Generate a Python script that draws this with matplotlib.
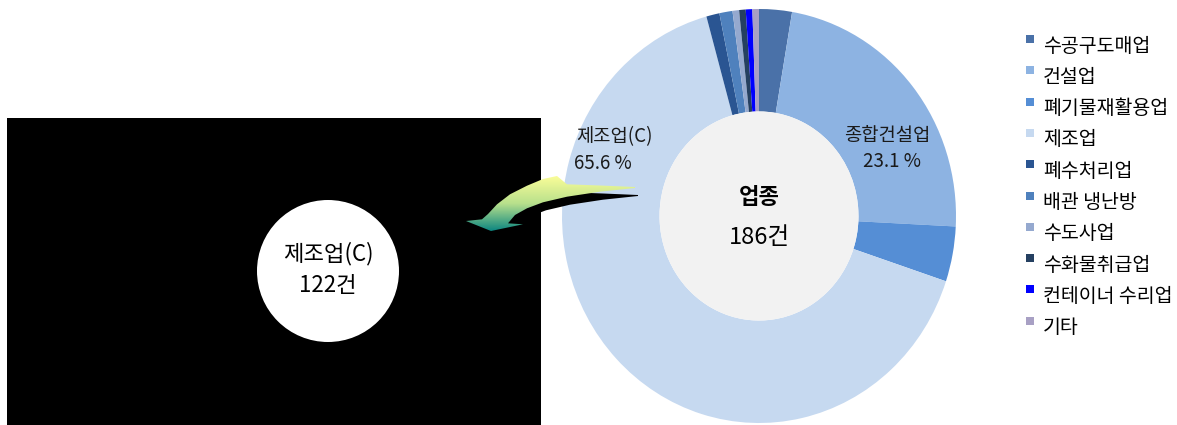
import matplotlib
matplotlib.use("Agg")
import matplotlib.pyplot as plt
import numpy as np
from matplotlib.patches import Rectangle, Circle, Polygon
from matplotlib.colors import LinearSegmentedColormap

plt.rcParams['font.family'] = ['Noto Sans CJK KR', 'DejaVu Sans']

# 업종별 건수
industries = ['수공구도매업', '건설업', '폐기물재활용업', '제조업', '폐수처리업',
              '배관 냉난방', '수도사업', '수화물취급업', '컨테이너 수리업', '기타']
counts = [5, 43, 8, 122, 2, 2, 1, 1, 1, 1]
colors = ['#4a71a8', '#8db3e2', '#558ed5', '#c6d9f0', '#2a5592',
          '#4f81bd', '#95a9cf', '#254061', '#0000ff', '#a8a0c4']

W, H = 1177, 425
fig = plt.figure(figsize=(W / 100, H / 100), dpi=100)


def px_axes(zorder):
    ax = fig.add_axes([0, 0, 1, 1], zorder=zorder)
    ax.set_xlim(0, W)
    ax.set_ylim(H, 0)
    ax.axis('off')
    ax.patch.set_alpha(0)
    return ax


# background panel with the highlighted category
ax_bg = px_axes(0)
ax_bg.add_patch(Rectangle((7, 118), 534, 320, facecolor='black', edgecolor='none'))
ax_bg.add_patch(Circle((328, 271), 71, facecolor='white', edgecolor='none'))
manuf_idx = industries.index('제조업')
ax_bg.text(328, 254, '제조업(C)', ha='center', va='center', fontsize=16)
ax_bg.text(328, 286, f'{counts[manuf_idx]}건', ha='center', va='center', fontsize=16)

# doughnut (slightly taller than wide)
cx, cy, rx, ry = 759, 216, 197, 207
ax = fig.add_axes([(cx - 1.25 * rx) / W, (H - cy - 1.25 * ry) / H,
                   2.5 * rx / W, 2.5 * ry / H], zorder=1)
ax.pie(counts, colors=colors, startangle=90, counterclock=False,
       wedgeprops=dict(width=0.495, linewidth=0))
ax.add_patch(Circle((0, 0), 0.505, facecolor='#f2f2f2', edgecolor='none'))
ax.set_aspect('auto')
ax.set_xlim(-1.25, 1.25)
ax.set_ylim(-1.25, 1.25)

total = sum(counts)
pct = [c / total * 100 for c in counts]
ax.text(0, 0.087, '업종', ha='center', va='center', fontsize=16, fontweight='bold')
ax.text(0, -0.106, f'{total}건', ha='center', va='center', fontsize=17)

lab_kw = dict(va='center', fontsize=13.5, color='#1a1a1a')
ax.text(0.65, 0.391, '종합건설업', ha='center', **lab_kw)
ax.text(0.675, 0.261, f'{pct[1]:.1f} %', ha='center', **lab_kw)
ax.text(-0.93, 0.382, '제조업(C)', ha='left', **lab_kw)
ax.text(-0.94, 0.256, f'{pct[manuf_idx]:.1f} %', ha='left', **lab_kw)

# curved gradient arrow pointing to the panel
ax_top = px_axes(2)
arrow_pts = np.array([
    (635, 187), (600, 185.5), (567, 184.3), (557, 176), (543, 179), (527, 185.7),
    (510, 194.3), (497, 204.3), (488, 214), (482, 219.3), (466, 221), (491, 231),
    (523, 224.3), (508, 223.3), (515, 215), (527, 208.3), (543, 202.3),
    (567, 196.7), (600, 191.7), (635, 188),
])
ax_top.add_patch(Polygon(arrow_pts + np.array([3, 8]), closed=True,
                         facecolor='black', edgecolor='none', zorder=1))
arrow = Polygon(arrow_pts, closed=True, facecolor='none', edgecolor='none', zorder=2)
ax_top.add_patch(arrow)
grad_cmap = LinearSegmentedColormap.from_list('arrow', ['#ffff99', '#b8e08c', '#008080'])
grad = np.linspace(0, 1, 200).reshape(-1, 1) * np.ones((1, 10))
img = ax_top.imshow(grad, cmap=grad_cmap, extent=(460, 640, 233, 174),
                    origin='upper', aspect='auto', interpolation='bilinear', zorder=3)
img.set_clip_path(arrow)

# legend
for i, (name, col) in enumerate(zip(industries, colors)):
    y = 46 + i * 31.3
    ax_top.add_patch(Rectangle((1026, y - 11), 8, 8, facecolor=col, edgecolor='none'))
    ax_top.text(1043, y, name, ha='left', va='center', fontsize=14)

ax_top.set_xlim(0, W)
ax_top.set_ylim(H, 0)

fig.savefig('out.png', dpi=100)
